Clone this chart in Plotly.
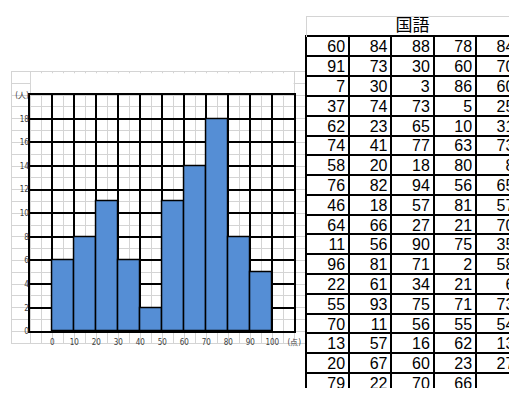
import plotly.graph_objects as go

# ---- score table (国語), five columns, one list per column ----
col1 = [60, 91, 7, 37, 62, 74, 58, 76, 46, 64, 11, 96, 22, 55, 70, 13, 20, 79]
col2 = [84, 73, 30, 74, 23, 41, 20, 82, 18, 66, 56, 81, 61, 93, 11, 57, 67, 22]
col3 = [88, 30, 3, 73, 65, 77, 18, 94, 57, 27, 90, 71, 34, 75, 56, 16, 60, 70]
col4 = [78, 60, 86, 5, 10, 63, 80, 56, 81, 21, 75, 2, 21, 71, 55, 62, 23, 66]
col5 = [84, 70, 60, 25, 31, 73, 8, 65, 57, 70, 35, 58, 6, 73, 54, 13, 27, None]
table_title = "国語"

# ---- histogram of the scores (class width 10) ----
bin_starts = [0, 10, 20, 30, 40, 50, 60, 70, 80, 90]
counts = [6, 8, 11, 6, 2, 11, 14, 18, 8, 5]
x_ticks = [0, 10, 20, 30, 40, 50, 60, 70, 80, 90, 100, 110]
x_tick_labels = ["0", "10", "20", "30", "40", "50", "60", "70", "80", "90", "100", "(点)"]
y_ticks = [0, 2, 4, 6, 8, 10, 12, 14, 16, 18, 20]
y_tick_labels = ["0", "2", "4", "6", "8", "10", "12", "14", "16", "18", "(人)"]

W, H = 516, 393
BIN_W = 10


def dx(a, b):
    return [a / W, b / W]


def dy(top, bottom):
    return [1 - bottom / H, 1 - top / H]


# chart plot box in pixels
PL, PR, PT, PB = 30.7, 298.3, 93.3, 335.0
XMIN, XMAX, YMIN, YMAX = -10, 110, 0, 20
sx = (PR - PL) / (XMAX - XMIN)
sy = (PB - PT) / (YMAX - YMIN)

# worksheet grid behind the chart
GL, GT, GB = 11.7, 70.0, 346.7
g_xmin = XMIN - (PL - GL) / sx
g_xmax = 115
GR = PL + (g_xmax - XMIN) * sx
g_ymin = YMIN - (GB - PB) / sy
g_ymax = YMAX + (PT - GT) / sy

# table geometry in pixels
TL, HT, HB = 311.0, 13.3, 33.3
COL_W, ROW_H = 42.9, 20.26
columns = [col1, col2, col3, col4, col5]
t_xmax = (W - TL) / COL_W
t_ymax = (H - HB) / ROW_H

SHEET_GRAY = "#d4d4d4"
TICK_FONT = dict(family="Liberation Sans Narrow, DejaVu Sans Condensed, sans-serif",
                 size=8, color="#404040")
CELL_FONT = dict(family="Liberation Sans, Arial, sans-serif", size=16, color="#000000")

fig = go.Figure()

# empty trace so the worksheet-grid subplot exists
fig.add_trace(go.Scatter(x=[], y=[], xaxis="x", yaxis="y", showlegend=False, hoverinfo="skip"))

# histogram bars
fig.add_trace(go.Bar(
    x=bin_starts, y=counts, width=BIN_W, offset=0,
    marker=dict(color="#558ed5", line=dict(color="#000000", width=1.5)),
    xaxis="x2", yaxis="y2", showlegend=False,
))

# table header text
fig.add_trace(go.Scatter(
    x=[len(columns) / 2], y=[0.5], mode="text", text=[table_title],
    textposition="middle center",
    textfont=dict(family="Noto Sans CJK JP, sans-serif", size=17, color="#000000"),
    xaxis="x4", yaxis="y4", showlegend=False, hoverinfo="skip", cliponaxis=False,
))

# table body text, right-aligned in each cell
tx, ty, tt = [], [], []
for ci, col in enumerate(columns):
    for ri, v in enumerate(col):
        if v is None:
            continue
        tx.append(ci + 1 - 4 / COL_W)
        ty.append(ri + 0.6)
        tt.append(str(v))
fig.add_trace(go.Scatter(
    x=tx, y=ty, mode="text", text=tt, textposition="middle left",
    textfont=CELL_FONT, xaxis="x3", yaxis="y3", showlegend=False,
    hoverinfo="skip", cliponaxis=True,
))

fig.update_layout(
    width=W, height=H, autosize=False,
    margin=dict(l=0, r=0, t=0, b=0, pad=0),
    paper_bgcolor="#ffffff", plot_bgcolor="rgba(0,0,0,0)",
    bargap=0,
    # worksheet grid
    xaxis=dict(domain=dx(GL, GR), range=[g_xmin, g_xmax], anchor="y",
               tickmode="array", tickvals=list(range(XMIN, g_xmax, 5)),
               showticklabels=False, ticks="", showgrid=True, gridcolor=SHEET_GRAY,
               gridwidth=1, zeroline=False, showline=True, mirror=True,
               linecolor=SHEET_GRAY, linewidth=1, fixedrange=True),
    yaxis=dict(domain=dy(GT, GB), range=[g_ymin, g_ymax], anchor="x",
               tickmode="array", tickvals=list(range(0, 22)),
               showticklabels=False, ticks="", showgrid=True, gridcolor=SHEET_GRAY,
               gridwidth=1, zeroline=False, showline=True, mirror=True,
               linecolor=SHEET_GRAY, linewidth=1, fixedrange=True),
    # histogram axes
    xaxis2=dict(domain=dx(PL, PR), range=[XMIN, XMAX], anchor="y2",
                tickmode="array", tickvals=x_ticks, ticktext=x_tick_labels,
                tickfont=TICK_FONT, ticks="", ticklabelstandoff=2,
                showgrid=True, gridcolor="#000000",
                gridwidth=1.5, zeroline=False, showline=True, mirror=True,
                linecolor="#000000", linewidth=1.5, fixedrange=True),
    yaxis2=dict(domain=dy(PT, PB), range=[YMIN, YMAX], anchor="x2",
                tickmode="array", tickvals=y_ticks, ticktext=y_tick_labels,
                tickfont=TICK_FONT, ticks="", ticklabelstandoff=-2,
                showgrid=True, gridcolor="#000000",
                gridwidth=1.5, zeroline=False, showline=True, mirror=True,
                linecolor="#000000", linewidth=1.5, fixedrange=True),
    # table body
    xaxis3=dict(domain=dx(TL, W), range=[0, t_xmax], anchor="y3", side="top",
                tickmode="array", tickvals=[1, 2, 3, 4, 5], showticklabels=False,
                ticks="", showgrid=True, gridcolor="#000000", gridwidth=1.6,
                zeroline=False, showline=True, linecolor="#000000", linewidth=1.6,
                fixedrange=True),
    yaxis3=dict(domain=dy(HB, H), range=[t_ymax, 0], anchor="x3",
                tickmode="array", tickvals=list(range(1, 19)), showticklabels=False,
                ticks="", showgrid=True, gridcolor="#000000", gridwidth=1.6,
                zeroline=False, showline=True, linecolor="#000000", linewidth=1.6,
                fixedrange=True),
    # table header
    xaxis4=dict(domain=dx(TL, W), range=[0, t_xmax], anchor="y4", side="top",
                showticklabels=False, ticks="", showgrid=False, zeroline=False,
                showline=True, linecolor=SHEET_GRAY, linewidth=1, fixedrange=True),
    yaxis4=dict(domain=dy(HT, HB), range=[0, 1], anchor="x4",
                showticklabels=False, ticks="", showgrid=False, zeroline=False,
                showline=True, linecolor=SHEET_GRAY, linewidth=1, fixedrange=True),
    shapes=[
        # blank title strip above the chart box
        dict(type="rect", xref="x", yref="y", layer="between",
             x0=XMIN + 0.3, x1=XMAX - 0.3, y0=YMAX + 0.08, y1=g_ymax - 0.08,
             fillcolor="#ffffff", line=dict(width=0)),
    ],
)

fig.write_html(
    "out.html",
    config={"displayModeBar": False, "responsive": False},
    post_script=(
        "document.documentElement.style.overflow='hidden';"
        "document.body.style.margin='0';"
        "document.body.style.overflow='hidden';"
    ),
)
